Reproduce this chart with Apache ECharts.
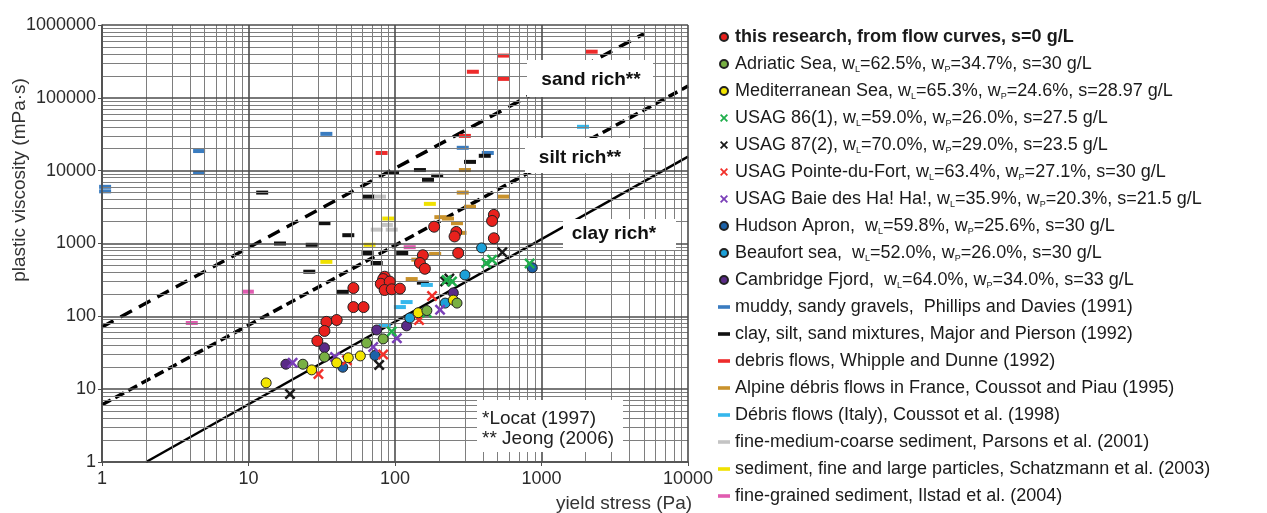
<!DOCTYPE html>
<html>
<head>
<meta charset="utf-8">
<script src="https://cdn.jsdelivr.net/npm/echarts@6/dist/echarts.min.js"></script>
<style>
  html, body { margin: 0; padding: 0; background: #fff; }
  #chart { width: 1267px; height: 513px; }
</style>
</head>
<body>
<div id="chart"></div>
<script>
// Points are [yield stress (Pa), plastic viscosity (mPa·s)]

// this research, from flow curves
const thisResearch = [
  [473, 2470], [460, 2040], [473, 1180], [185, 1700], [262, 1440], [255, 1250],
  [270, 740], [155, 690], [148, 540], [160, 450], [85, 350], [83, 325],
  [80, 280], [92, 300], [85, 230], [95, 235], [108, 240], [52, 245],
  [52, 134], [61, 134], [40, 89], [34, 84], [33, 63], [29.5, 46]
];
const adriatic = [[23.5, 22], [33, 27.6], [64, 43], [83, 49], [165, 120], [265, 152]];
const mediterranean = [[13.2, 12.2], [27, 18.4], [40, 23], [48, 27], [58, 28.6], [144, 112], [250, 167]];
const usag86 = [[95, 62], [165, 112], [225, 316], [245, 300], [420, 540], [460, 600], [830, 530]];
const usag87 = [[19.2, 8.6], [78, 21.5], [220, 300], [235, 330], [540, 760]];
const pointeDuFort = [[30, 16.2], [47, 25], [83, 30], [146, 89], [179, 190]];
const baieHaHa = [[20, 23], [39, 27.6], [71, 38], [103, 50], [203, 123]];
const hudsonApron = [[44, 20], [73, 29], [865, 465]];
const beaufortSea = [[390, 870], [300, 370], [220, 152], [126, 95]];
const cambridgeFjord = [[18, 22], [33, 37], [75, 65], [120, 74], [250, 210]];

// literature data
const phillipsDavies = [[1.05, 6000], [1.05, 5200], [4.6, 18600], [4.6, 9300], [34, 32000], [290, 20600], [430, 17500]];
const majorPierson = [
  [12.4, 5000], [16.4, 1000], [27, 960], [33, 1900], [48, 1300], [26, 410],
  [44, 217], [66, 4400], [65, 740], [75, 540], [97, 9300], [112, 740],
  [148, 10200], [168, 7500], [194, 8500], [155, 290], [325, 13200], [410, 16000]
];
const whippleDunne = [[81, 17500], [300, 30000], [340, 228000], [550, 380000], [550, 182000], [2200, 430000]];
const coussotPiau = [[300, 10200], [290, 5000], [550, 4400], [325, 3200], [204, 2300], [230, 2200], [265, 1900], [280, 1400], [188, 720], [142, 600], [130, 325]];
const coussotItaly = [[1920, 40000], [108, 134], [120, 157], [165, 270], [85, 76]];
const parsons = [[79, 4400], [75, 1550], [95, 1550], [88, 1800]];
const schatzmann = [[173, 3500], [90, 2200], [67, 960], [34, 560]];
const ilstad = [[4.1, 81], [9.9, 218], [126, 890]];

// rheological trend lines (end points)
const sandRichLine = [[1, 71.5], [5000, 760000]];
const siltRichLine = [[1, 6.1], [10000, 145000]];
const clayRichLine = [[2, 1], [10000, 15600]];

// axis ranges
const xRange = [1, 10000];
const yRange = [1, 1000000];

// legend labels (wL / wP are drawn with subscripts)
const names = {
  research: 'this research, from flow curves, s=0 g/L',
  adriatic: 'Adriatic Sea, wL=62.5%, wP=34.7%, s=30 g/L',
  med: 'Mediterranean Sea, wL=65.3%, wP=24.6%, s=28.97 g/L',
  u86: 'USAG 86(1), wL=59.0%, wP=26.0%, s=27.5 g/L',
  u87: 'USAG 87(2), wL=70.0%, wP=29.0%, s=23.5 g/L',
  upf: 'USAG Pointe-du-Fort, wL=63.4%, wP=27.1%, s=30 g/L',
  ubh: 'USAG Baie des Ha! Ha!, wL=35.9%, wP=20.3%, s=21.5 g/L',
  hud: 'Hudson Apron,  wL=59.8%, wP=25.6%, s=30 g/L',
  bea: 'Beaufort sea,  wL=52.0%, wP=26.0%, s=30 g/L',
  cam: 'Cambridge Fjord,  wL=64.0%, wP=34.0%, s=33 g/L',
  pd: 'muddy, sandy gravels,  Phillips and Davies (1991)',
  mp: 'clay, silt, sand mixtures, Major and Pierson (1992)',
  wd: 'debris flows, Whipple and Dunne (1992)',
  cp: 'Alpine débris flows in France, Coussot and Piau (1995)',
  ci: 'Débris flows (Italy), Coussot et al. (1998)',
  pa: 'fine-medium-coarse sediment, Parsons et al. (2001)',
  sc: 'sediment, fine and large particles, Schatzmann et al. (2003)',
  il: 'fine-grained sediment, Ilstad et al. (2004)'
};

const CROSS = 'path://M0,1.6L1.6,0L5,3.4L8.4,0L10,1.6L6.6,5L10,8.4L8.4,10L5,6.6L1.6,10L0,8.4L3.4,5Z';
const DASH = 'path://M0,0H10V3H0Z';

function dots(name, data, color, size) {
  return { name, type: 'scatter', data, symbol: 'circle', symbolSize: size || 10, z: 5,
    itemStyle: { color, borderColor: '#222', borderWidth: 1, opacity: 1 } };
}
function crosses(name, data, color) {
  return { name, type: 'scatter', data, symbol: CROSS, symbolSize: 11, z: 5,
    itemStyle: { color, opacity: 1 } };
}
function dashes(name, data, color) {
  return { name, type: 'scatter', data, symbol: 'rect', symbolSize: [12, 4], z: 4,
    itemStyle: { color, opacity: 1 } };
}
function trend(data, dash, width) {
  return { type: 'line', data, symbol: 'none', z: 3, silent: true,
    lineStyle: { color: '#000', width, type: dash } };
}

// log grid lines at 1..9 x 10^n
function logLines(range, key, color, width, major) {
  const out = [];
  for (let d = range[0]; d < range[1]; d *= 10) {
    for (let k = 1; k <= 9; k++) {
      const v = k * d;
      if ((k === 1) === major) out.push({ [key]: v, lineStyle: { color, width, type: 'solid' } });
    }
  }
  if (major) out.push({ [key]: range[1], lineStyle: { color, width, type: 'solid' } });
  return out;
}

const gridSeries = {
  type: 'scatter', data: [], silent: true, z: 1,
  markLine: {
    silent: true, symbol: 'none', animation: false, label: { show: false },
    data: [].concat(
      logLines(xRange, 'xAxis', '#7e7e7e', 1, false),
      logLines(yRange, 'yAxis', '#7e7e7e', 1, false),
      logLines(xRange, 'xAxis', '#4d4d4d', 1.6, true),
      logLines(yRange, 'yAxis', '#4d4d4d', 1.6, true)
    )
  }
};

const legendOrder = [
  [names.research, 'circle'], [names.adriatic, 'circle'], [names.med, 'circle'],
  [names.u86, CROSS], [names.u87, CROSS], [names.upf, CROSS], [names.ubh, CROSS],
  [names.hud, 'circle'], [names.bea, 'circle'], [names.cam, 'circle'],
  [names.pd, DASH], [names.mp, DASH], [names.wd, DASH], [names.cp, DASH],
  [names.ci, DASH], [names.pa, DASH], [names.sc, DASH], [names.il, DASH]
];

const FONT = '"Liberation Sans", Arial, sans-serif';
const chart = echarts.init(document.getElementById('chart'), null, { renderer: 'canvas' });

chart.setOption({
  animation: false,
  backgroundColor: '#fff',
  textStyle: { fontFamily: FONT },
  grid: { left: 102, right: 579, top: 25, bottom: 51 },
  xAxis: {
    type: 'log', logBase: 10, min: xRange[0], max: xRange[1],
    axisLine: { show: true, lineStyle: { color: '#4d4d4d', width: 1.6 } },
    axisTick: { show: true, length: 4, lineStyle: { color: '#4d4d4d' } },
    splitLine: { show: false },
    axisLabel: { fontSize: 18, color: '#2b2b2b', margin: 8, formatter: v => String(Math.round(v)) }
  },
  yAxis: {
    type: 'log', logBase: 10, min: yRange[0], max: yRange[1],
    axisLine: { show: true, lineStyle: { color: '#4d4d4d', width: 1.6 } },
    axisTick: { show: true, length: 4, lineStyle: { color: '#4d4d4d' } },
    splitLine: { show: false },
    axisLabel: { fontSize: 18, color: '#2b2b2b', margin: 6, formatter: v => String(Math.round(v)) }
  },
  legend: {
    orient: 'vertical', left: 718, top: 27, padding: 0,
    itemWidth: 12, itemHeight: 8, itemGap: 7,
    selectedMode: false,
    data: legendOrder.map(([name, icon], i) => {
      const d = { name, icon };
      if (i === 0) d.textStyle = { fontWeight: 'bold' };
      return d;
    }),
    formatter: n => n.replace(/w([LP])=/g, 'w{s|$1}='),
    textStyle: {
      fontSize: 18, color: '#1a1a1a', lineHeight: 20, fontFamily: FONT,
      rich: { s: { fontSize: 9, lineHeight: 9, verticalAlign: 'bottom', fontFamily: FONT } }
    }
  },
  series: [
    gridSeries,
    trend(sandRichLine, [13, 8], 3.5),
    trend(siltRichLine, [10, 5], 3.5),
    trend(clayRichLine, 'solid', 2.5),
    dashes(names.pd, phillipsDavies, '#3a7cc0'),
    dashes(names.mp, majorPierson, '#111111'),
    dashes(names.wd, whippleDunne, '#ee2b2b'),
    dashes(names.cp, coussotPiau, '#c9922c'),
    dashes(names.ci, coussotItaly, '#35b7ec'),
    dashes(names.pa, parsons, '#c4c4c4'),
    dashes(names.sc, schatzmann, '#f0e100'),
    dashes(names.il, ilstad, '#e05cb0'),
    dots(names.cam, cambridgeFjord, '#5a2a87'),
    dots(names.bea, beaufortSea, '#1ba0d8'),
    dots(names.hud, hudsonApron, '#1c62a8'),
    crosses(names.ubh, baieHaHa, '#7a3fb8'),
    crosses(names.upf, pointeDuFort, '#f2302a'),
    crosses(names.u87, usag87, '#1a1a1a'),
    crosses(names.u86, usag86, '#1fae4b'),
    dots(names.med, mediterranean, '#f3e500'),
    dots(names.adriatic, adriatic, '#78b043'),
    dots(names.research, thisResearch, '#e8211d', 11)
  ],
  graphic: [
    { type: 'rect', shape: { x: 527, y: 60, width: 126, height: 37 }, style: { fill: '#fff' }, z: 100 },
    { type: 'text', x: 591, y: 80, z: 101,
      style: { text: 'sand rich**', fontSize: 19, fontWeight: 'bold', fontFamily: FONT, fill: '#111', align: 'center', verticalAlign: 'middle' } },
    { type: 'rect', shape: { x: 525, y: 138, width: 118, height: 35 }, style: { fill: '#fff' }, z: 100 },
    { type: 'text', x: 580, y: 158, z: 101,
      style: { text: 'silt rich**', fontSize: 19, fontWeight: 'bold', fontFamily: FONT, fill: '#111', align: 'center', verticalAlign: 'middle' } },
    { type: 'rect', shape: { x: 563, y: 219, width: 113, height: 31 }, style: { fill: '#fff' }, z: 100 },
    { type: 'text', x: 614, y: 234, z: 101,
      style: { text: 'clay rich*', fontSize: 19, fontWeight: 'bold', fontFamily: FONT, fill: '#111', align: 'center', verticalAlign: 'middle' } },
    { type: 'rect', shape: { x: 477, y: 400, width: 146, height: 52 }, style: { fill: '#fff' }, z: 100 },
    { type: 'text', x: 482, y: 419, z: 101,
      style: { text: '*Locat (1997)', fontSize: 19, fontFamily: FONT, fill: '#222', align: 'left', verticalAlign: 'middle' } },
    { type: 'text', x: 482, y: 439, z: 101,
      style: { text: '** Jeong (2006)', fontSize: 19, fontFamily: FONT, fill: '#222', align: 'left', verticalAlign: 'middle' } },
    { type: 'text', x: 20, y: 180, rotation: Math.PI / 2, z: 101,
      style: { text: 'plastic viscosity (mPa·s)', fontSize: 19, fontFamily: FONT, fill: '#333', align: 'center', verticalAlign: 'middle' } },
    { type: 'text', x: 624, y: 504, z: 101,
      style: { text: 'yield stress (Pa)', fontSize: 19, fontFamily: FONT, fill: '#333', align: 'center', verticalAlign: 'middle' } }
  ]
});
</script>
</body>
</html>
